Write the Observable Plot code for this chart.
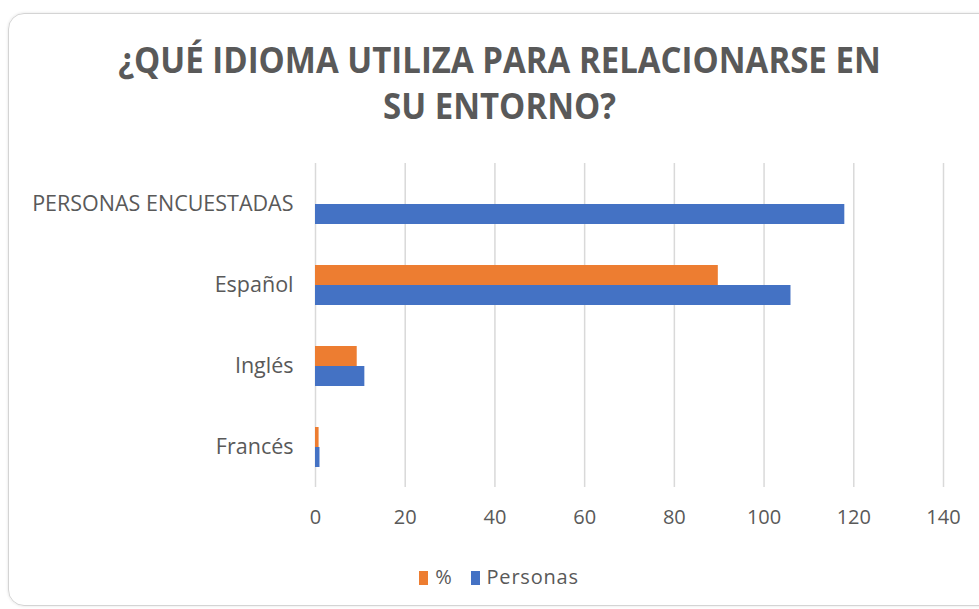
<!DOCTYPE html>
<html>
<head>
<meta charset="utf-8">
<script src="https://cdn.jsdelivr.net/npm/d3@7"></script>
<script src="https://cdn.jsdelivr.net/npm/@observablehq/plot@0.6"></script>
<style>
  html, body { margin: 0; padding: 0; background: #fff; width: 979px; height: 609px; overflow: hidden; }
  #box { position: absolute; left: 8px; top: 13px; width: 1000px; height: 591px; border: 1px solid #d4d4d4; border-radius: 16px; box-shadow: 0 0 3px rgba(0,0,0,0.12); }
  #title { position: absolute; left: 0; top: 37px; width: 999px; text-align: center; font-family: "Open Sans", sans-serif; font-weight: bold; font-size: 33px; line-height: 46px; color: #595959; }
  #title span { display: inline-block; transform: scaleY(1.06); }
  #chart { position: absolute; left: 0; top: 150px; }
  #legend { position: absolute; left: 0; top: 563px; width: 998px; text-align: center; font-family: "Open Sans", sans-serif; font-size: 20px; letter-spacing: 0.8px; color: #595959; }
  .sw { display: inline-block; width: 9px; height: 14px; margin-right: 7px; vertical-align: -1px; }
  .item { margin: 0 9px; }
</style>
</head>
<body>
<div id="box"></div>
<div id="title"><span>¿QUÉ IDIOMA UTILIZA PARA RELACIONARSE EN</span><br><span>SU ENTORNO?</span></div>
<div id="chart"></div>
<div id="legend"></div>
<script>
const categories = ["PERSONAS ENCUESTADAS", "Español", "Inglés", "Francés"];
const series = ["%", "Personas"];
const porcentaje = [null, 89.8, 9.3, 0.8];
const personas = [118, 106, 11, 1];
const xTicks = [0, 20, 40, 60, 80, 100, 120, 140];
const colors = ["#ED7D31", "#4472C4"];

const rows = [];
categories.forEach((c, i) => {
  if (porcentaje[i] != null) rows.push({categoria: c, serie: "%", valor: porcentaje[i]});
  if (personas[i] != null) rows.push({categoria: c, serie: "Personas", valor: personas[i]});
});

const font = '"Open Sans", sans-serif';

const chart = Plot.plot({
  width: 979,
  height: 382,
  marginLeft: 315,
  marginRight: 36,
  marginTop: 13,
  marginBottom: 45,
  style: {fontFamily: font, fontSize: "20px", color: "#595959", background: "transparent"},
  x: {domain: [0, 140], ticks: xTicks, label: null},
  y: {domain: series, axis: null, paddingInner: 0, paddingOuter: 0.93},
  fy: {domain: categories, axis: null, padding: 0},
  color: {domain: series, range: colors},
  marks: [
    Plot.ruleX(xTicks, {stroke: "#d9d9d9", strokeWidth: 1.5, strokeOpacity: 1}),
    Plot.barX(rows, {fy: "categoria", y: "serie", x: "valor", fill: "serie", inset: 0}),
    Plot.axisX({ticks: xTicks, tickSize: 0, tickPadding: 22, label: null, fontSize: 20}),
    Plot.axisFy({anchor: "left", label: null, tickSize: 0, tickPadding: 22, fontSize: 21.5})
  ]
});
document.getElementById("chart").appendChild(chart);

const legend = document.getElementById("legend");
series.forEach((s, i) => {
  const item = document.createElement("span");
  item.className = "item";
  const sw = document.createElement("span");
  sw.className = "sw";
  sw.style.background = colors[i];
  item.appendChild(sw);
  item.appendChild(document.createTextNode(s));
  legend.appendChild(item);
});
</script>
</body>
</html>
